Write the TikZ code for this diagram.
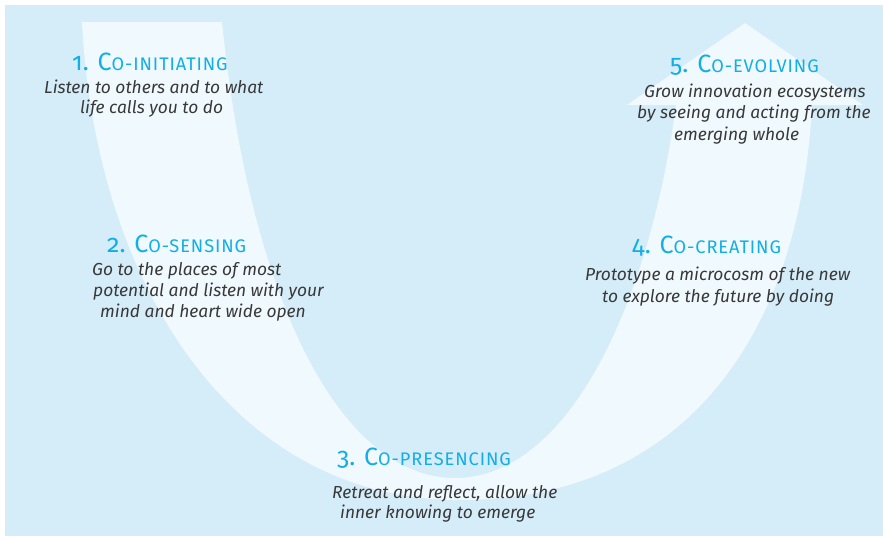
\documentclass[tikz,border=0pt]{standalone}
\usepackage{fontspec}
\setmainfont{Fira Sans}
\definecolor{bgblue}{HTML}{D5ECF9}
\definecolor{arrowwhite}{HTML}{F0F9FE}
\definecolor{titlecyan}{HTML}{12AEE6}
\definecolor{bodygray}{HTML}{383838}
\newcommand{\steptitle}[2]{{\fontsize{25}{27}\selectfont\addfontfeatures{Numbers=OldStyle}#1}{\fontsize{18.2}{20}\selectfont\addfontfeatures{LetterSpace=5}#2}}
\tikzset{
  titletext/.style={anchor=base west, inner sep=0pt, text=titlecyan},
  bodytext/.style={anchor=base west, inner sep=0pt, text=bodygray, font=\fontsize{17.4}{20}\selectfont\itshape},
}
\begin{document}
\begin{tikzpicture}[x=1pt,y=-1pt]
\useasboundingbox (0,0) rectangle (883,536);
\fill[bgblue] (5,5) rectangle (883,536);
% U-shaped arrow
\fill[arrowwhite] (82,22) -- (222,22)
  .. controls (250,300) and (340,478) .. (455,478)
  .. controls (570,478) and (650,300) .. (676,105)
  -- (627,105) -- (745,23) -- (863,105) -- (812,105)
  .. controls (800,340) and (680,500) .. (460,500)
  .. controls (230,500) and (95,280) .. (82,22)
  -- cycle;
% 1
\node[titletext] (t1) at (72,70) {\steptitle{1. C}{O-INITIATING}};
\node[bodytext] (b1a) at (44,93) {Listen to others and to what};
\node[bodytext] (b1b) at (80,113) {life calls you to do};
% 2
\node[titletext] (t2) at (107,252) {\steptitle{2. C}{O-SENSING}};
\node[bodytext] (b2a) at (92,275) {Go to the places of most};
\node[bodytext] (b2b) at (93,296) {potential and listen with your};
\node[bodytext] (b2c) at (100,317) {mind and heart wide open};
% 3
\node[titletext] (t3) at (337,465) {\steptitle{3. C}{O-PRESENCING}};
\node[bodytext] (b3a) at (332,498) {Retreat and reflect, allow the};
\node[bodytext] (b3b) at (340,518) {inner knowing to emerge};
% 4
\node[titletext] (t4) at (632,253) {\steptitle{4. C}{O-CREATING}};
\node[bodytext] (b4a) at (585,280) {Prototype a microcosm of the new};
\node[bodytext] (b4b) at (602,302) {to explore the future by doing};
% 5
\node[titletext] (t5) at (670,72) {\steptitle{5. C}{O-EVOLVING}};
\node[bodytext] (b5a) at (644,97) {Grow innovation ecosystems};
\node[bodytext] (b5b) at (637,118) {by seeing and acting from the};
\node[bodytext] (b5c) at (674,140) {emerging whole};
\end{tikzpicture}
\end{document}
